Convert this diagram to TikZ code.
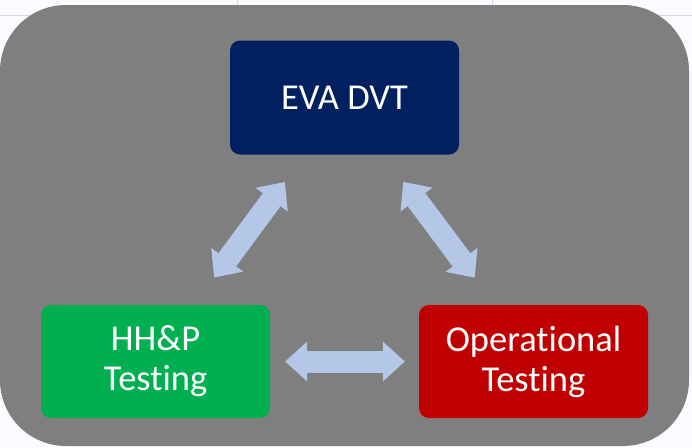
\documentclass[tikz,border=0pt]{standalone}
\usepackage{fontspec}
\setmainfont{Carlito}[RawFeature={-liga;-clig;-calt;-dlig}]
\usetikzlibrary{calc}
\usetikzlibrary{arrows.meta}
\definecolor{EVANavy}{HTML}{002060}
\definecolor{HHPGreen}{HTML}{00B050}
\definecolor{OpsRed}{HTML}{C00000}
\definecolor{LinkBlue}{HTML}{B4C7E7}
\definecolor{PanelGray}{HTML}{7F7F7F}
\definecolor{GridGray}{HTML}{D5D8DE}

\begin{document}
\begin{tikzpicture}[x=1pt,y=-1pt]
    \tikzstyle{b}=[shape=rectangle,rounded corners=10pt,minimum width=229pt,minimum height=114pt,inner sep=0pt,text=white,align=center,font=\fontsize{36.5}{40}\selectfont]
    \tikzstyle{l}=[line width=22pt,draw=LinkBlue,{Triangle[width=40pt,length=22pt,line width=0pt]}-{Triangle[width=40pt,length=22pt,line width=0pt]}]
    
    % page
    \useasboundingbox (0,0) rectangle (692,447);
    \fill[white!98!blue] (0,0) rectangle (692,447);
    \draw[GridGray] (0,15) -- (692,15);
    \draw[GridGray] (237,0) -- (237,15);
    \draw[GridGray] (492,0) -- (492,15);
    \draw[GridGray] (0,398) -- (30,398);
    
    % panel
    \fill[PanelGray,rounded corners=66pt] (0,5) rectangle (689,446);
    
    % top box
    \coordinate (eva_c) at (344.5,97.5);
    \node[b,fill=EVANavy] (eva) at (eva_c) {EVA DVT};
    
    % left box
    \coordinate (hhp_c) at ($(eva_c) + (-189,264)$);
    \node[b,fill=HHPGreen,minimum height=113pt] (hhp) at (hhp_c) {HH\&P\\Testing};
    
    % right box
    \coordinate (ops_c) at ($(eva_c) + (189,264)$);
    \node[b,fill=OpsRed,minimum height=113pt] (ops) at (ops_c) {Operational\\Testing};
    
    % links
    \draw[l,shorten <=34pt,shorten >=34pt] ([xshift=38.5pt]hhp.north) -- ([xshift=-39.5pt]eva.south);
    \draw[l,shorten <=34pt,shorten >=34pt] ([xshift=38.5pt]eva.south) -- ([xshift=-38.5pt]ops.north);
    \draw[l,shorten <=15pt,shorten >=14pt] (hhp.east) -- (ops.west);
    
\end{tikzpicture}
\end{document}
